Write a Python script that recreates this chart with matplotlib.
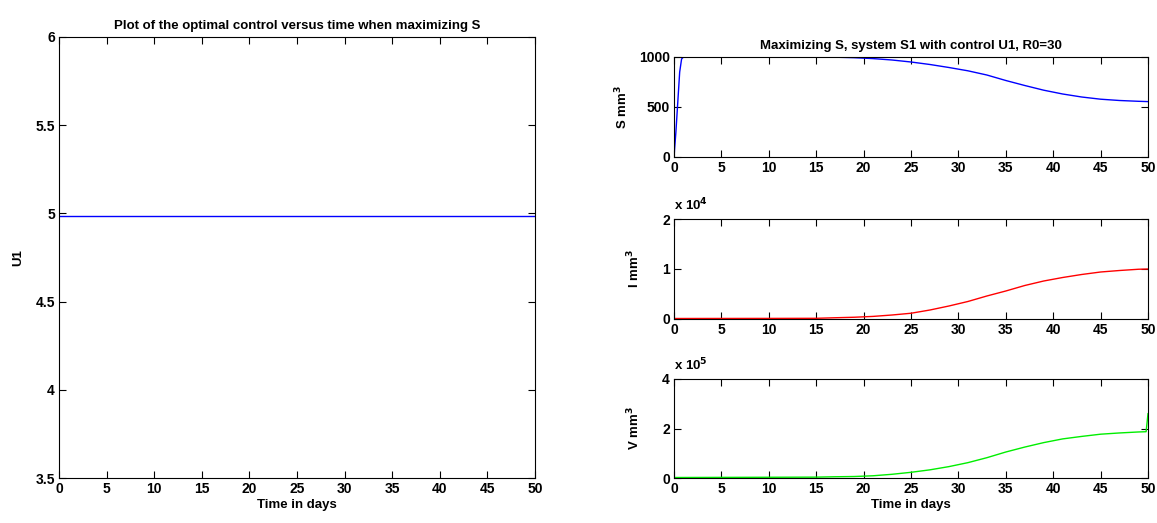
import matplotlib
matplotlib.use("Agg")
import matplotlib.pyplot as plt
import numpy as np

plt.rcParams['font.family'] = ['Liberation Sans', 'DejaVu Sans']
plt.rcParams['font.weight'] = 'bold'
plt.rcParams['font.size'] = 9

# Data
t_u = [0, 50]
u1 = [4.985, 4.985]

t_s = [0, 0.2, 0.4, 0.6, 0.8, 1, 5, 10, 15, 17, 19, 21, 23, 25, 27, 29, 31, 33, 35, 37, 39, 41, 43, 45, 47, 49, 50]
s_vals = [0, 250, 550, 850, 980, 1000, 1000, 1000, 1000, 998, 993, 984, 970, 950, 925, 895, 862, 820, 765, 715, 668, 630, 600, 578, 565, 557, 554]

t_i = [0, 5, 10, 15, 17, 19, 21, 23, 25, 27, 29, 31, 33, 35, 37, 39, 41, 43, 45, 47, 49, 50]
i_vals = [100, 110, 120, 140, 250, 350, 520, 800, 1150, 1800, 2600, 3500, 4600, 5600, 6700, 7600, 8300, 8900, 9400, 9700, 9950, 10000]

t_v = [0, 5, 10, 15, 17, 19, 21, 23, 25, 27, 29, 31, 33, 35, 37, 39, 41, 43, 45, 47, 49, 49.8, 50]
v_vals = [2000, 2500, 3000, 3500, 5000, 6000, 9000, 15000, 23000, 33000, 46000, 62000, 82000, 105000, 125000, 143000, 158000, 168000, 177000, 182000, 186000, 187000, 260000]

W, H = 1157, 523
fig = plt.figure(figsize=(W / 100, H / 100), dpi=100)

def ax_px(l, t, r, b):
    return fig.add_axes([l / W, 1 - b / H, (r - l) / W, (b - t) / H])

def style(ax):
    ax.tick_params(direction='in', top=True, right=True, length=5, width=0.8, labelsize=10, pad=3)
    for sp in ax.spines.values():
        sp.set_linewidth(0.8)

FS = 9.5

ax0 = ax_px(59, 37, 535, 478)
ax0.plot(t_u, u1, color='blue', lw=1)
ax0.set_xlim(0, 50)
ax0.set_ylim(3.5, 6)
ax0.set_xticks(np.arange(0, 51, 5))
ax0.set_yticks([3.5, 4, 4.5, 5, 5.5, 6])
ax0.set_yticklabels(['3.5', '4', '4.5', '5', '5.5', '6'])
ax0.set_title('Plot of the optimal control versus time when maximizing S', fontsize=FS, fontweight='bold', pad=6)
ax0.set_xlabel('Time in days', fontsize=FS, fontweight='bold', labelpad=2)
ax0.set_ylabel('U1', fontsize=FS, fontweight='bold', labelpad=8)
style(ax0)

ax1 = ax_px(674, 57, 1148, 157)
ax1.plot(t_s, s_vals, color='blue', lw=1)
ax1.set_xlim(0, 50)
ax1.set_ylim(0, 1000)
ax1.set_xticks(np.arange(0, 51, 5))
ax1.set_yticks([0, 500, 1000])
ax1.set_title('Maximizing S, system S1 with control U1, R0=30', fontsize=FS, fontweight='bold', pad=6)
ax1.set_ylabel('S mm$^\\mathbf{3}$', fontsize=FS, fontweight='bold', labelpad=6)
style(ax1)

ax2 = ax_px(674, 219, 1148, 319)
ax2.plot(t_i, i_vals, color='red', lw=1)
ax2.set_xlim(0, 50)
ax2.set_ylim(0, 20000)
ax2.set_xticks(np.arange(0, 51, 5))
ax2.set_yticks([0, 10000, 20000])
ax2.set_yticklabels(['0', '1', '2'])
ax2.text(0, 1.06, 'x 10$^\\mathbf{4}$', transform=ax2.transAxes, fontsize=FS, fontweight='bold', va='bottom')
ax2.set_ylabel('I mm$^\\mathbf{3}$', fontsize=FS, fontweight='bold', labelpad=14)
style(ax2)

ax3 = ax_px(674, 379, 1148, 478)
ax3.plot(t_v, v_vals, color='#00ee00', lw=1)
ax3.set_xlim(0, 50)
ax3.set_ylim(0, 400000)
ax3.set_xticks(np.arange(0, 51, 5))
ax3.set_yticks([0, 200000, 400000])
ax3.set_yticklabels(['0', '2', '4'])
ax3.text(0, 1.06, 'x 10$^\\mathbf{5}$', transform=ax3.transAxes, fontsize=FS, fontweight='bold', va='bottom')
ax3.set_ylabel('V mm$^\\mathbf{3}$', fontsize=FS, fontweight='bold', labelpad=14)
ax3.set_xlabel('Time in days', fontsize=FS, fontweight='bold', labelpad=2)
style(ax3)

fig.savefig('out.png', dpi=100)
